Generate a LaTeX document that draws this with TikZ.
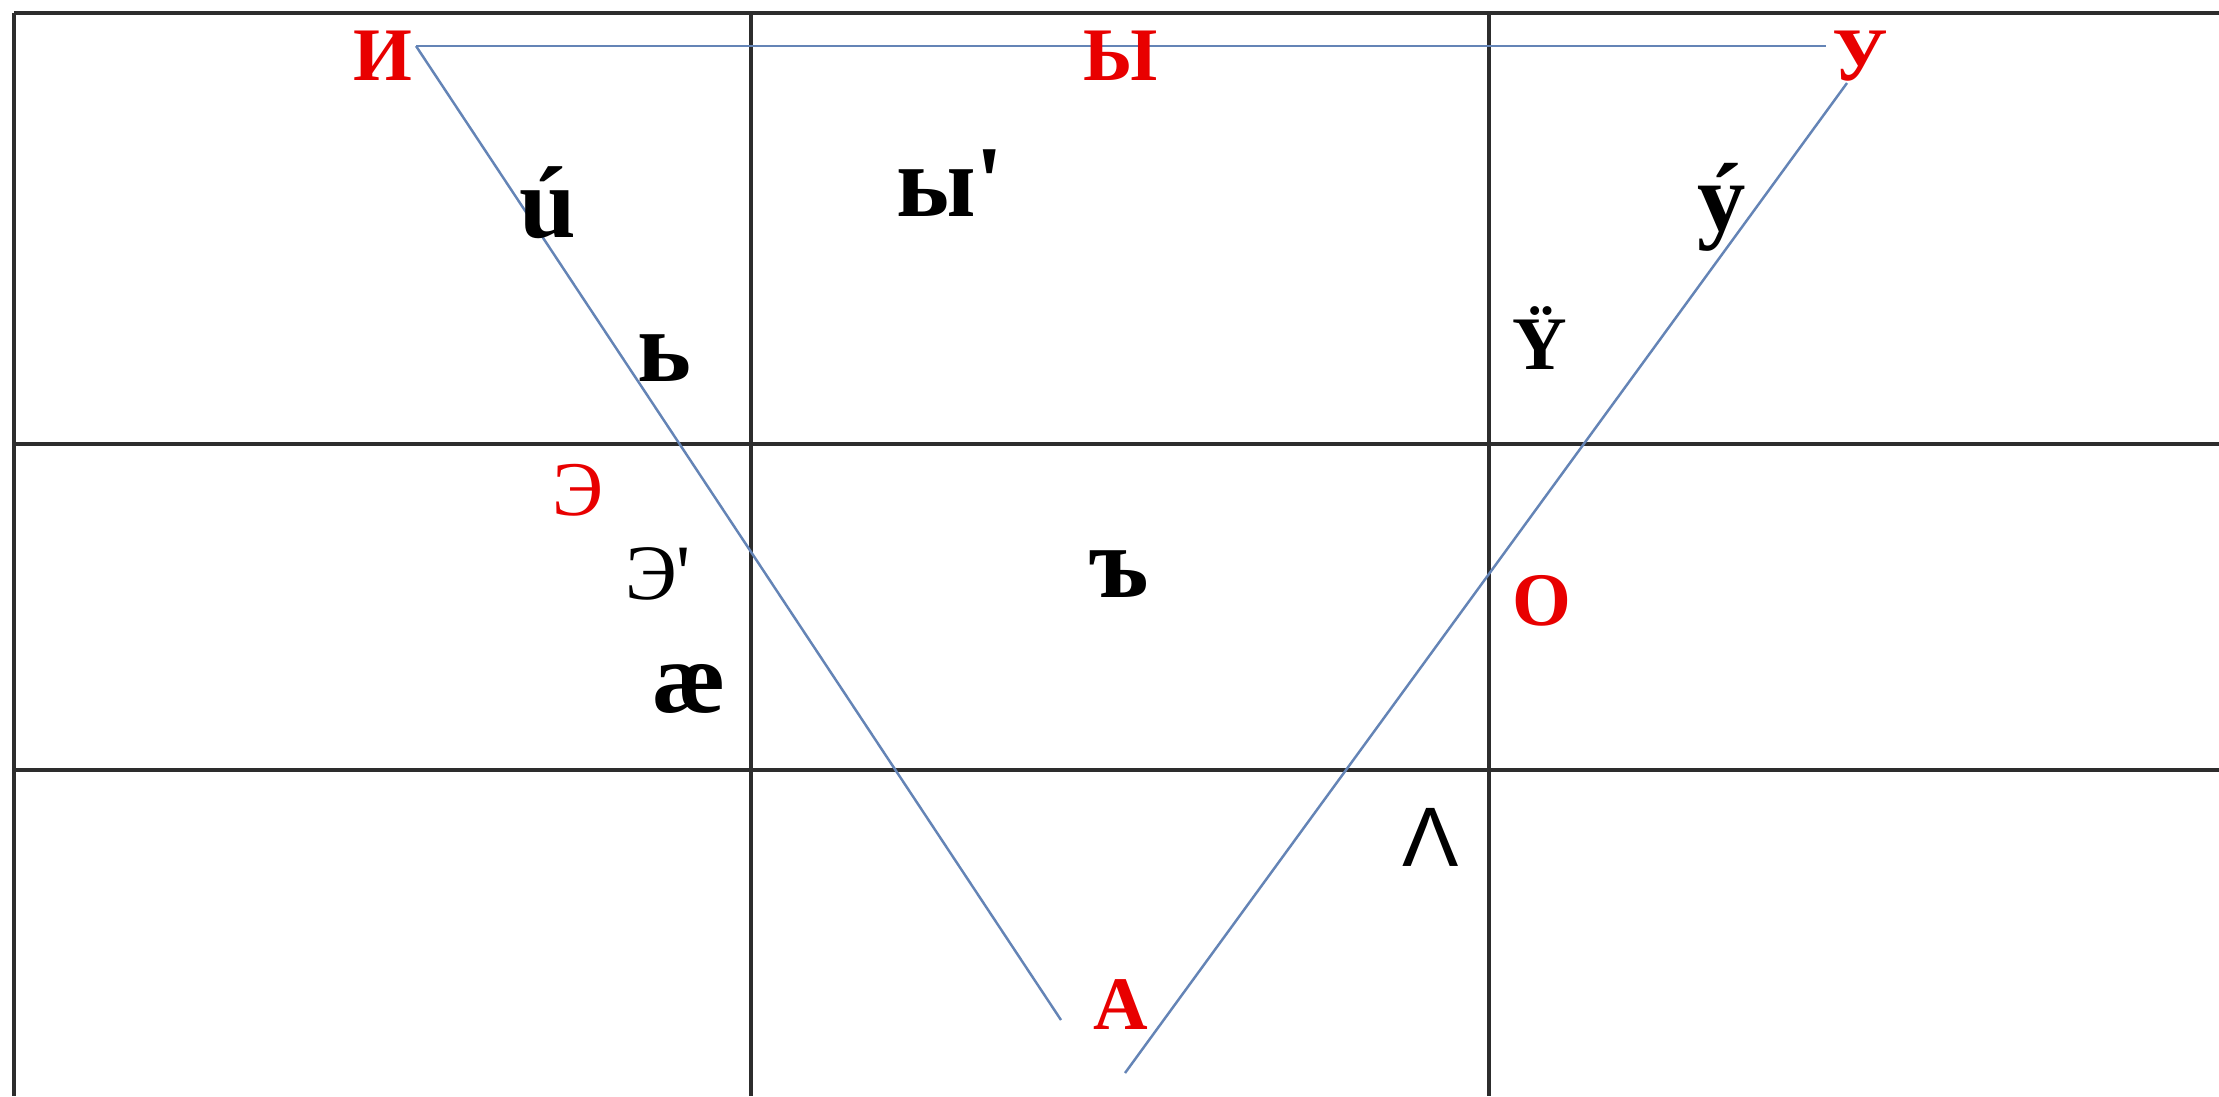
\documentclass[tikz,border=0pt]{standalone}
\usepackage{fontspec}
\setmainfont{Liberation Serif}
\newfontfamily\lamfont{Liberation Sans}
\usetikzlibrary{positioning}

\definecolor{vowelred}{RGB}{232,0,0}
\definecolor{triblue}{RGB}{100,132,182}
\definecolor{gridgray}{RGB}{45,45,45}

\begin{document}
\begin{tikzpicture}[
    x=0.01cm, y=-0.01cm,
    grid/.style={gridgray, line width=1pt},
    tri/.style={triblue, line width=0.7pt},
    vowel/.style={inner sep=0pt, text=vowelred,
                  font=\bfseries\fontsize{21.5pt}{24pt}\selectfont},
    sound/.style={inner sep=0pt, font=\bfseries\fontsize{29pt}{32pt}\selectfont}
  ]
  \useasboundingbox[fill=white] (0,0) rectangle (2219,1096);

  % table
  \draw[grid] (14,13) -- (2219,13);
  \draw[grid] (14,13) -- (14,1096);
  \foreach \x in {751,1489} {
    \draw[grid] (\x,13) -- (\x,1096);
  }
  \foreach \y in {444,770} {
    \draw[grid] (14,\y) -- (2219,\y);
  }

  % corners of the triangle
  \coordinate (iEnd) at (416,46);
  \coordinate (uEnd) at (1826,46);
  \coordinate (uLow) at (1847,83);
  \coordinate (aLeft) at (1061,1020);
  \coordinate (aRight) at (1125,1073);

  \draw[tri] (iEnd) -- (uEnd);
  \draw[tri] (iEnd) -- (aLeft);
  \draw[tri] (uLow) -- (aRight);

  % red vowels
  \foreach \n/\x/\y/\t in {vi/383/56/И, vy/1121/56/Ы, vu/1860/56/У,
                           vo/1542/601/О, va/1121/1005/А} {
    \node[vowel] (\n) at (\x,\y) {\t};
  }
  \node[vowel, font=\fontsize{22pt}{24pt}\selectfont] (ve) at (578,490) {Э};

  % other sounds
  \foreach \n/\x/\y/\t in {ui/548/203/ú, soft/664/358/ь, hard/1119/574/ъ,
                           ae/689/689/æ, yy/950/183/{ы\textquotesingle}} {
    \node[sound] (\n) at (\x,\y) {\t};
  }
  \node[sound, font=\bfseries\fontsize{27.5pt}{30pt}\selectfont] (uu) at (1722,207) {ý};
  \node[sound, font=\bfseries\fontsize{21.5pt}{24pt}\selectfont] (ydots) at (1540,338) {Ÿ};
  \node[sound, font=\fontsize{22.3pt}{25pt}\selectfont] (ee) at (658,574) {Э\textquotesingle};
  \node[sound, font=\lamfont\fontsize{24pt}{26pt}\selectfont] (lam) at (1431,837) {Λ};
\end{tikzpicture}
\end{document}
